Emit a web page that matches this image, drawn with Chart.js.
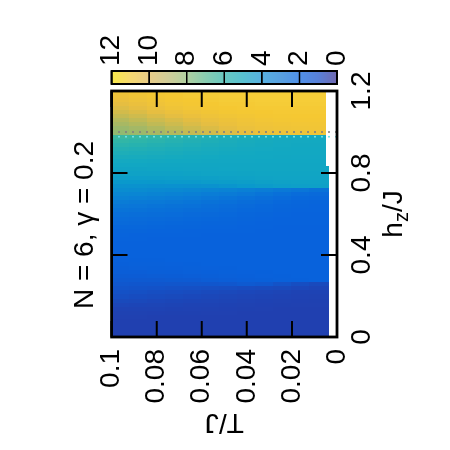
<!DOCTYPE html>
<html>
<head>
<meta charset="utf-8">
<script src="https://cdn.jsdelivr.net/npm/chart.js@4.4.0/dist/chart.umd.min.js"></script>
<style>
  html, body { margin: 0; padding: 0; background: #fff; }
  /* the original gnuplot figure is turned a quarter turn */
  #wrap { width: 450px; height: 450px; transform: rotate(-90deg); }
</style>
</head>
<body>
<div id="wrap"><canvas id="chart" width="450" height="450"></canvas></div>
<script>
// rows: field h_z/J
const hzValues = [0, 0.02, 0.04, 0.06, 0.08, 0.1, 0.12, 0.14, 0.16, 0.18, 0.2,
  0.22, 0.24, 0.26, 0.28, 0.3, 0.32, 0.34, 0.36, 0.38, 0.4, 0.42, 0.44, 0.46,
  0.48, 0.5, 0.52, 0.54, 0.56, 0.58, 0.6, 0.62, 0.64, 0.66, 0.68, 0.7, 0.72,
  0.74, 0.76, 0.78, 0.8, 0.82, 0.84, 0.86, 0.88, 0.9, 0.92, 0.94, 0.96, 0.98,
  1.0, 1.02, 1.04, 1.06, 1.08, 1.1, 1.12, 1.14, 1.16, 1.18, 1.2];
// columns: temperature T/J
const tValues = [0.096, 0.088, 0.08, 0.072, 0.064, 0.056, 0.048, 0.04, 0.032, 0.024, 0.016, 0.008];
// heat[row][col], same order as above
const heat = [
  [1, 1, 1, 1, 1, 1, 1, 1, 1, 1, 1, 1],
  [1, 1, 1, 1, 1, 1, 1, 1, 1, 1, 1, 1],
  [1, 1, 1, 1, 1, 1, 1, 1, 1, 1, 1, 1],
  [1, 1, 1, 1, 1, 1, 1, 1, 1, 1, 1, 1],
  [1, 1, 1, 1, 1, 1, 1, 1, 1, 1, 1, 1],
  [1.02, 1.02, 1.01, 1.01, 1, 1, 1, 1, 1, 1, 1, 1],
  [1.05, 1.05, 1.04, 1.03, 1.03, 1.02, 1.02, 1.01, 1, 1, 1, 1],
  [1.1, 1.09, 1.08, 1.07, 1.06, 1.05, 1.04, 1.03, 1.02, 1.01, 1, 1],
  [1.18, 1.16, 1.14, 1.12, 1.1, 1.08, 1.07, 1.05, 1.04, 1.03, 1.02, 1.02],
  [1.28, 1.25, 1.22, 1.19, 1.16, 1.14, 1.11, 1.09, 1.07, 1.05, 1.04, 1.03],
  [1.4, 1.36, 1.32, 1.28, 1.24, 1.2, 1.17, 1.14, 1.11, 1.08, 1.06, 1.05],
  [1.5, 1.46, 1.42, 1.38, 1.34, 1.3, 1.26, 1.22, 1.18, 1.14, 1.1, 1.08],
  [1.6, 1.57, 1.54, 1.5, 1.47, 1.43, 1.4, 1.36, 1.32, 1.28, 1.22, 1.15],
  [1.68, 1.66, 1.65, 1.64, 1.64, 1.65, 1.68, 1.75, 1.7, 1.55, 1.4, 1.3],
  [1.75, 1.75, 1.76, 1.78, 1.8, 1.84, 1.88, 1.92, 1.94, 1.96, 1.98, 2],
  [1.82, 1.83, 1.84, 1.86, 1.88, 1.9, 1.93, 1.95, 1.97, 1.98, 2, 2],
  [1.88, 1.89, 1.9, 1.92, 1.93, 1.95, 1.96, 1.97, 1.98, 2, 2, 2],
  [1.92, 1.93, 1.94, 1.95, 1.96, 1.97, 1.98, 1.99, 2, 2, 2, 2],
  [1.95, 1.96, 1.96, 1.97, 1.98, 1.99, 2, 2, 2, 2, 2, 2],
  [1.97, 1.98, 1.98, 1.99, 2, 2, 2, 2, 2, 2, 2, 2],
  [2, 2, 2, 2, 2, 2, 2, 2, 2, 2, 2, 2],
  [2, 2, 2, 2, 2, 2, 2, 2, 2, 2, 2, 2],
  [2, 2, 2, 2, 2, 2, 2, 2, 2, 2, 2, 2],
  [2, 2, 2, 2, 2, 2, 2, 2, 2, 2, 2, 2],
  [2.02, 2.02, 2.01, 2.01, 2, 2, 2, 2, 2, 2, 2, 2],
  [2.06, 2.05, 2.04, 2.03, 2.02, 2.01, 2, 2, 2, 2, 2, 2],
  [2.12, 2.1, 2.08, 2.07, 2.05, 2.04, 2.03, 2.02, 2.01, 2, 2, 2],
  [2.2, 2.18, 2.15, 2.12, 2.1, 2.08, 2.06, 2.04, 2.02, 2.01, 2, 2],
  [2.3, 2.27, 2.23, 2.2, 2.16, 2.13, 2.1, 2.07, 2.05, 2.03, 2.02, 2.02],
  [2.4, 2.36, 2.32, 2.28, 2.24, 2.2, 2.16, 2.12, 2.08, 2.05, 2.03, 2.03],
  [2.5, 2.46, 2.42, 2.37, 2.32, 2.27, 2.22, 2.17, 2.12, 2.08, 2.05, 2.04],
  [2.65, 2.6, 2.55, 2.5, 2.44, 2.38, 2.31, 2.24, 2.18, 2.12, 2.08, 2.06],
  [2.8, 2.75, 2.69, 2.63, 2.56, 2.48, 2.4, 2.32, 2.24, 2.17, 2.11, 2.08],
  [3, 2.94, 2.87, 2.8, 2.72, 2.63, 2.53, 2.43, 2.33, 2.24, 2.16, 2.12],
  [3.2, 3.14, 3.07, 3, 2.91, 2.81, 2.7, 2.58, 2.46, 2.34, 2.24, 2.18],
  [3.4, 3.35, 3.29, 3.22, 3.14, 3.05, 2.95, 2.83, 2.7, 2.55, 2.4, 2.3],
  [3.6, 3.56, 3.51, 3.46, 3.4, 3.33, 3.25, 3.15, 3.05, 2.9, 2.75, 2.6],
  [3.8, 3.78, 3.76, 3.75, 3.76, 3.8, 3.9, 4.05, 4.2, 4.35, 4.45, 4.5],
  [4.05, 4.05, 4.06, 4.1, 4.15, 4.22, 4.3, 4.4, 4.5, 4.58, 4.62, 4.65],
  [4.35, 4.35, 4.38, 4.42, 4.46, 4.52, 4.58, 4.64, 4.7, 4.72, 4.74, 4.75],
  [4.6, 4.6, 4.62, 4.65, 4.68, 4.72, 4.75, 4.78, 4.8, 4.8, 4.8, 4.8],
  [4.78, 4.78, 4.79, 4.8, 4.82, 4.84, 4.85, 4.86, 4.86, 4.86, 4.86, 4.86],
  [4.92, 4.91, 4.9, 4.9, 4.9, 4.9, 4.9, 4.9, 4.9, 4.9, 4.9, 4.9],
  [5.05, 5.04, 5.02, 5, 4.98, 4.96, 4.95, 4.94, 4.93, 4.93, 4.93, 4.93],
  [5.2, 5.17, 5.14, 5.1, 5.07, 5.04, 5.01, 4.99, 4.97, 4.96, 4.95, 4.95],
  [5.35, 5.3, 5.25, 5.2, 5.15, 5.11, 5.07, 5.04, 5.01, 4.99, 4.98, 4.98],
  [5.5, 5.44, 5.37, 5.3, 5.24, 5.18, 5.13, 5.08, 5.05, 5.02, 5, 5],
  [5.7, 5.62, 5.53, 5.44, 5.35, 5.27, 5.2, 5.14, 5.09, 5.05, 5.03, 5.02],
  [5.9, 5.8, 5.7, 5.58, 5.46, 5.36, 5.27, 5.19, 5.13, 5.08, 5.05, 5.04],
  [6.1, 6, 5.88, 5.74, 5.6, 5.48, 5.36, 5.26, 5.18, 5.12, 5.08, 5.06],
  [7.7, 7.9, 8.2, 8.5, 8.9, 9.3, 9.7, 10, 10.3, 10.45, 10.55, 10.6],
  [7.9, 8.1, 8.4, 8.8, 9.2, 9.6, 9.95, 10.25, 10.45, 10.55, 10.65, 10.7],
  [8.2, 8.45, 8.8, 9.15, 9.55, 9.9, 10.2, 10.45, 10.6, 10.7, 10.75, 10.8],
  [8.5, 8.8, 9.15, 9.5, 9.85, 10.15, 10.4, 10.6, 10.75, 10.85, 10.9, 10.9],
  [8.9, 9.2, 9.55, 9.9, 10.2, 10.45, 10.65, 10.8, 10.9, 10.95, 11, 11],
  [9.3, 9.6, 9.95, 10.25, 10.5, 10.7, 10.85, 10.95, 11, 11.05, 11.05, 11.05],
  [9.65, 9.95, 10.25, 10.55, 10.75, 10.9, 11, 11.05, 11.1, 11.1, 11.1, 11.1],
  [9.95, 10.2, 10.5, 10.75, 10.9, 11, 11.1, 11.1, 11.15, 11.15, 11.15, 11.15],
  [10.2, 10.45, 10.7, 10.9, 11, 11.1, 11.15, 11.15, 11.2, 11.2, 11.2, 11.2],
  [10.4, 10.65, 10.85, 11, 11.1, 11.15, 11.2, 11.2, 11.2, 11.2, 11.2, 11.2],
  [10.55, 10.8, 11, 11.1, 11.15, 11.2, 11.2, 11.2, 11.2, 11.2, 11.2, 11.2],
];
const hzTicks = [0, 0.4, 0.8, 1.2];
const tTicks = [0, 0.02, 0.04, 0.06, 0.08, 0.1];
const cbTicks = [0, 2, 4, 6, 8, 10, 12];
const hzLines = [1.0, 0.977];

const heatStops = [
  [0, '#3a3aa0'], [1, '#2040b0'], [2, '#0862dc'], [3, '#0a7cd6'], [4, '#0a98cc'],
  [5, '#12a8c2'], [6, '#34b8a4'], [7, '#70ba82'], [8, '#a0b868'], [9, '#c8ba50'],
  [10, '#e8be40'], [11, '#f5c832'], [12, '#f8e050'],
];
const barStops = [
  [0, '#7068b0'], [1, '#5880d8'], [2, '#5090e8'], [3, '#58a0e0'], [4, '#58b0e0'],
  [5, '#58c0d0'], [6, '#68c8c0'], [7, '#88ccb0'], [8, '#b0d0a0'], [9, '#d0cc98'],
  [10, '#e8cc88'], [11, '#f5d870'], [12, '#f8e848'],
];

function hex(c) {
  return [1, 3, 5].map(i => parseInt(c.slice(i, i + 2), 16));
}
function heatColor(v) {
  for (let i = 1; i < heatStops.length; i++) {
    if (v <= heatStops[i][0]) {
      const [v0, c0] = heatStops[i - 1], [v1, c1] = heatStops[i];
      const f = (v - v0) / (v1 - v0), a = hex(c0), b = hex(c1);
      return `rgb(${a.map((x, k) => Math.round(x + (b[k] - x) * f)).join(',')})`;
    }
  }
  return heatStops[heatStops.length - 1][1];
}
// lowest T of the data, a bit higher above the transition
const tLow = hz => (hz > 0.83 ? 0.005 : 0.0036);

const FONT = 'Liberation Sans, Arial, sans-serif';
Chart.defaults.font.family = FONT;
Chart.defaults.color = '#000';

const heatmap = {
  id: 'heatmap',
  beforeDatasetsDraw(chart) {
    const { ctx, chartArea: a, scales: { x, y } } = chart;
    ctx.save();
    ctx.beginPath();
    ctx.rect(a.left, a.top, a.right - a.left, a.bottom - a.top);
    ctx.clip();
    hzValues.forEach((hz, i) => {
      const x0 = Math.floor(x.getPixelForValue(hz - 0.01));
      const x1 = Math.ceil(x.getPixelForValue(hz + 0.01));
      tValues.forEach((t, j) => {
        const lo = j === tValues.length - 1 ? tLow(hz) : t - 0.004;
        const y0 = Math.floor(y.getPixelForValue(t + 0.004));
        const y1 = Math.round(y.getPixelForValue(lo));
        ctx.fillStyle = heatColor(heat[i][j]);
        ctx.fillRect(x0, y0, x1 - x0, y1 - y0);
      });
    });
    // dotted guides
    ctx.lineWidth = 1.6;
    hzLines.forEach((hz, k) => {
      ctx.strokeStyle = k === 0 ? '#808080' : '#6ee0e8';
      ctx.setLineDash([2, 5]);
      const px = x.getPixelForValue(hz);
      ctx.beginPath();
      ctx.moveTo(px, a.bottom);
      ctx.lineTo(px, a.top);
      ctx.stroke();
    });
    ctx.restore();
  },
  afterDraw(chart) {
    const { ctx, chartArea: a, scales: { x, y, c } } = chart;
    ctx.save();
    // inward ticks
    ctx.strokeStyle = '#000';
    ctx.lineWidth = 2;
    const tl = 16;
    ctx.beginPath();
    hzTicks.forEach(v => {
      const px = x.getPixelForValue(v);
      ctx.moveTo(px, a.bottom); ctx.lineTo(px, a.bottom - tl);
      ctx.moveTo(px, a.top); ctx.lineTo(px, a.top + tl);
    });
    tTicks.forEach(v => {
      const py = y.getPixelForValue(v);
      ctx.moveTo(a.left, py); ctx.lineTo(a.left + tl, py);
      ctx.moveTo(a.right, py); ctx.lineTo(a.right - tl, py);
    });
    ctx.stroke();
    // frame
    ctx.lineWidth = 2.8;
    ctx.strokeRect(a.left, a.top, a.right - a.left, a.bottom - a.top);

    // colour box
    const bx0 = c.left + 7, bx1 = c.left + 20;
    const top = c.getPixelForValue(12), bot = c.getPixelForValue(0);
    const g = ctx.createLinearGradient(0, bot, 0, top);
    barStops.forEach(([v, col]) => g.addColorStop(v / 12, col));
    ctx.fillStyle = g;
    ctx.fillRect(bx0, top, bx1 - bx0, bot - top);
    ctx.lineWidth = 1.6;
    ctx.beginPath();
    cbTicks.forEach(v => {
      const py = c.getPixelForValue(v);
      ctx.moveTo(bx0, py); ctx.lineTo(bx1, py);
    });
    ctx.stroke();
    ctx.lineWidth = 2;
    ctx.strokeRect(bx0, top, bx1 - bx0, bot - top);

    // x axis title h_z/J
    const cx = (a.left + a.right) / 2, base = a.bottom + 65;
    ctx.fillStyle = '#000';
    ctx.textBaseline = 'alphabetic';
    ctx.textAlign = 'left';
    ctx.font = `28px ${FONT}`;
    const wh = ctx.measureText('h').width, wj = ctx.measureText('/J').width;
    ctx.font = `20px ${FONT}`;
    const wz = ctx.measureText('z').width;
    const px = cx - (wh + wz + wj) / 2;
    ctx.font = `28px ${FONT}`;
    ctx.fillText('h', px, base);
    ctx.font = `20px ${FONT}`;
    ctx.fillText('z', px + wh, base + 6);
    ctx.font = `28px ${FONT}`;
    ctx.fillText('/J', px + wh + wz, base);
    ctx.restore();
  },
};

const tickFont = { size: 28 };
new Chart('chart', {
  type: 'scatter',
  data: { datasets: [{ data: [], showLine: false }] },
  options: {
    responsive: false,
    animation: false,
    layout: { padding: 0 },
    plugins: {
      legend: { display: false },
      tooltip: { enabled: false },
      title: {
        display: true,
        text: 'N = 6, \u03b3 = 0.2',
        font: { size: 28, weight: 'normal' },
        color: '#000',
        padding: { top: 68, bottom: 10 },
      },
    },
    scales: {
      x: {
        type: 'linear', position: 'bottom', min: 0, max: 1.2,
        afterBuildTicks: s => { s.ticks = hzTicks.map(v => ({ value: v })); },
        afterFit: s => { s.height = 113; },
        grid: { display: false, drawTicks: false },
        border: { display: false },
        ticks: { font: tickFont, padding: 8, maxRotation: 0, callback: v => String(v) },
      },
      y: {
        type: 'linear', position: 'left', min: 0, max: 0.1,
        afterBuildTicks: s => { s.ticks = tTicks.map(v => ({ value: v })); },
        afterFit: s => { s.width = 113; },
        grid: { display: false, drawTicks: false },
        border: { display: false },
        ticks: { font: tickFont, padding: 12, callback: v => String(v) },
        title: { display: true, text: 'T/J', font: { size: 28 }, padding: { top: 11, bottom: 0 } },
      },
      c: {
        type: 'linear', position: 'right', min: 0, max: 12,
        afterBuildTicks: s => { s.ticks = cbTicks.map(v => ({ value: v })); },
        afterFit: s => { s.width = 91; },
        grid: { display: false, drawTicks: false },
        border: { display: false },
        ticks: { font: tickFont, padding: 25, callback: v => String(v) },
      },
    },
  },
  plugins: [heatmap],
});
</script>
</body>
</html>
